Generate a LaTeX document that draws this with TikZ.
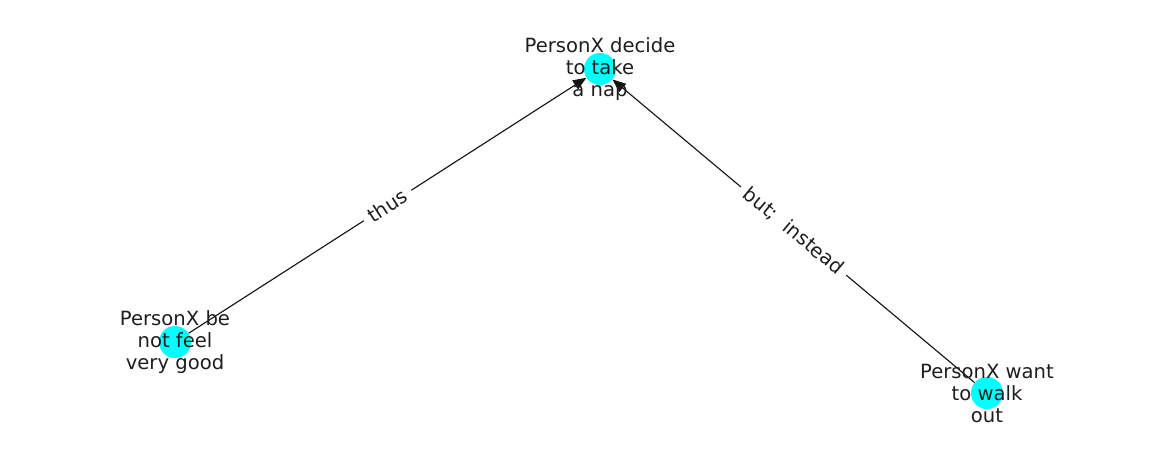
\documentclass[tikz,border=0pt]{standalone}
\usepackage{fontspec}
\setmainfont{DejaVu Sans}
\usetikzlibrary{arrows.meta}
\definecolor{nodecyan}{RGB}{0,255,255}
\definecolor{edgegray}{RGB}{20,20,20}
\definecolor{txtgray}{RGB}{30,30,30}
\tikzset{
  dot/.style={circle, fill=nodecyan, draw=none, minimum size=24pt, inner sep=0pt},
  nodetext/.style={align=center, text=txtgray, font=\fontsize{14.7pt}{16.5pt}\selectfont, inner sep=0pt},
  conn/.style={draw=edgegray, line width=0.85pt, -{Triangle[length=10pt,width=8pt]}},
  elabel/.style={fill=white, text=txtgray, font=\fontsize{14.7pt}{16.5pt}\selectfont, inner xsep=5pt, inner ysep=3pt, sloped}
}
\begin{document}
\begin{tikzpicture}[x=0.75pt,y=-0.75pt]
\useasboundingbox (0,0) rectangle (1162,462);
\node[dot] (top) at (600,69) {};
\node[dot] (left) at (175,342) {};
\node[dot] (right) at (987,393) {};
\draw[conn] (left) -- (top);
\draw[conn] (right) -- (top);
\node[nodetext] (ttop) at (600,69) {PersonX decide\\to take\\a nap};
\node[nodetext] (tleft) at (175,342) {PersonX be\\not feel\\very good};
\node[nodetext] (tright) at (987,393) {PersonX want\\to walk\\out};
\path (left) -- node[elabel] (l1) {thus} (top);
\path (top) -- node[elabel] (l2) {but;\ \ instead} (right);
\end{tikzpicture}
\end{document}
